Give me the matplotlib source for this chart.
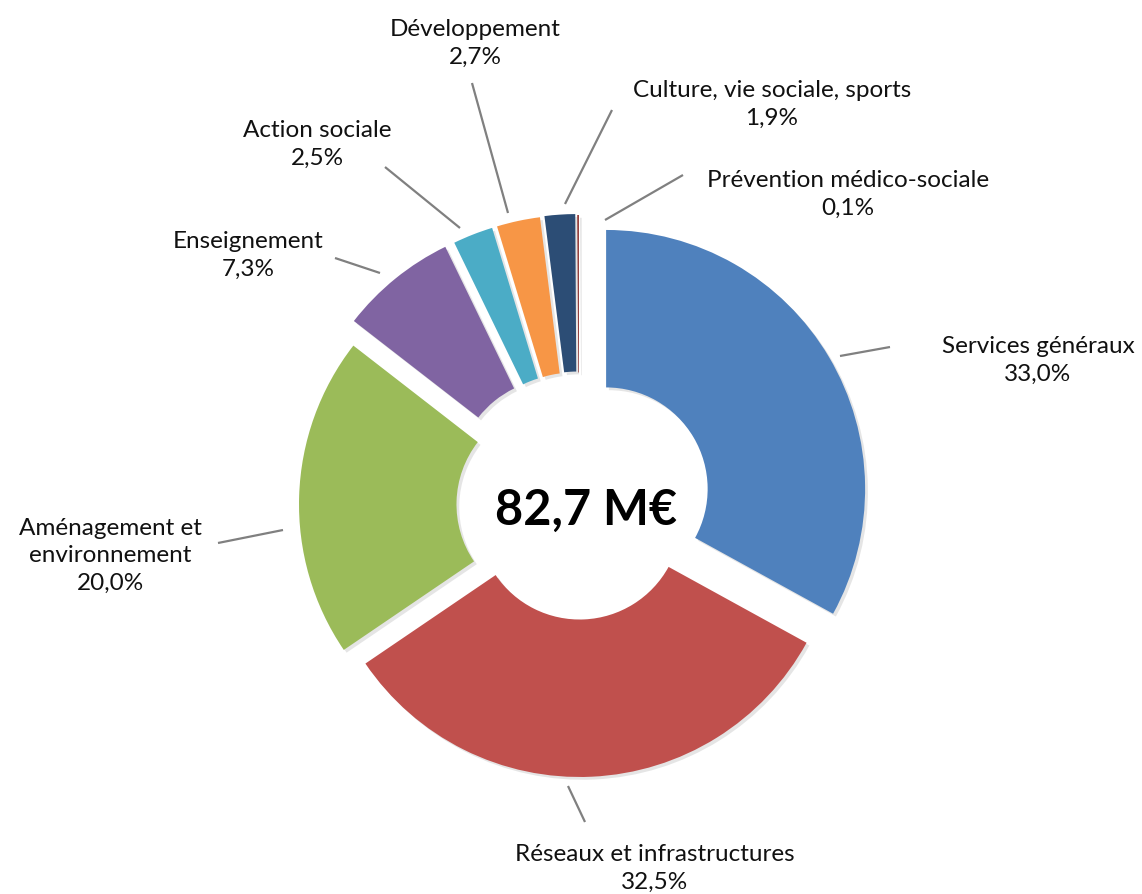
import matplotlib.pyplot as plt
import matplotlib.patheffects as pe

# data
categories = ["Services généraux", "Réseaux et infrastructures", "Aménagement et\nenvironnement",
              "Enseignement", "Action sociale", "Développement",
              "Culture, vie sociale, sports", "Prévention médico-sociale"]
shares = [33.0, 32.5, 20.0, 7.3, 2.5, 2.7, 1.9, 0.1]
total_label = "82,7 M€"

colors = ["#4F81BD", "#C0504D", "#9BBB59", "#8064A2", "#4BACC6", "#F79646", "#2C4D75", "#8B2E2B"]
# explosion distances in pixels (pie does not scale explode by radius)
explode = [31.5, 13, 21, 32.5, 31.5, 31.5, 32, 31]

# layout in pixel coords (y from top)
W, H = 1142, 894
label_pos = [(1038, 360), (655, 868), (110, 556), (248, 255),
             (317, 144), (475, 43), (772, 104), (848, 194)]
leaders = [((890, 347), (840, 356)), ((568, 786), (585, 822)), ((218, 543), (283, 530)),
           ((335, 258), (380, 273)), ((385, 167), (460, 228)), ((472, 83), (508, 213)),
           ((612, 110), (565, 204)), ((683, 175), (605, 220))]

plt.rcParams['font.family'] = ['Lato', 'DejaVu Sans']

fig = plt.figure(figsize=(W / 100, H / 100), dpi=100)
ax = fig.add_axes([0, 0, 1, 1])

cx, cy, R = 579, H - 505, 259
wedges, _ = ax.pie(shares, colors=colors, explode=explode, startangle=90, counterclock=False,
                   radius=R, center=(cx, cy),
                   wedgeprops=dict(width=R * 0.608, linewidth=0))
for w in wedges:
    w.set_path_effects([pe.SimplePatchShadow(offset=(2, -2), shadow_rgbFace='#999999', alpha=0.25),
                        pe.Normal()])

ax.set_xlim(0, W)
ax.set_ylim(0, H)
ax.set_aspect('equal')
ax.axis('off')

ax.text(586, H - 510, total_label, ha='center', va='center', fontsize=35, fontweight='bold', color='black')

for name, val, (lx, ly) in zip(categories, shares, label_pos):
    txt = f"{name}\n{val:.1f}%".replace('.', ',')
    ax.text(lx, H - ly, txt, ha='center', va='center', fontsize=17.5, linespacing=1.4, color='#111111')

for (x0, y0), (x1, y1) in leaders:
    ax.plot([x0, x1], [H - y0, H - y1], color='#808080', lw=1.6, solid_capstyle='butt')

fig.savefig("out.png", dpi=100, facecolor='white')
